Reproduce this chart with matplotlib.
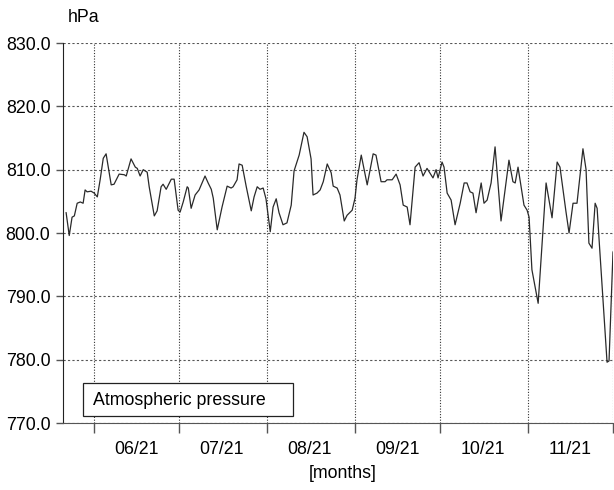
import datetime as dt

import matplotlib
matplotlib.use("Agg")
import matplotlib.dates as mdates
import numpy as np
from matplotlib import patches as mpatches
from matplotlib import pyplot as plt

# days since 2021-06-01 and pressure
days = [-9.9, -8.8, -7.8, -7.0, -6.0, -4.9, -3.9, -3.2, -2.5, -1.1,
        0.0, 1.1, 2.1, 3.2, 4.2, 6.0, 7.0, 8.8, 10.6, 11.3,
        13.0, 14.5, 15.2, 16.2, 17.3, 18.7, 19.4, 21.2, 22.2, 23.6,
        24.3, 25.4, 27.2, 28.2, 29.6, 30.3, 31.4, 32.8, 33.2, 34.2,
        35.6, 37.0, 39.1, 40.2, 41.3, 42.0, 43.4, 45.1, 46.9, 48.3,
        49.0, 50.4, 51.1, 52.2, 53.6, 55.4, 56.4, 57.5, 58.5, 59.6,
        60.6, 62.1, 63.1, 64.2, 65.2, 66.6, 68.0, 69.5, 70.5, 72.3,
        74.0, 75.1, 76.5, 77.2, 78.6, 79.7, 80.8, 82.2, 83.6, 84.3,
        85.7, 86.7, 88.2, 89.2, 91.0, 92.0, 92.7, 94.2, 96.3, 98.4,
        99.4, 101.2, 102.6, 103.3, 105.1, 106.5, 107.9, 109.0, 110.4, 111.4,
        113.2, 114.6, 116.0, 117.4, 119.5, 120.6, 121.3, 122.7, 123.4, 124.5,
        125.9, 127.3, 129.1, 130.5, 131.5, 132.6, 133.6, 134.7, 136.5, 137.5,
        138.6, 140.0, 141.4, 143.5, 146.3, 147.7, 148.5, 149.5, 151.6, 152.7,
        153.4, 154.4, 156.6, 159.4, 161.5, 163.3, 164.3, 166.4, 167.5, 168.9,
        170.3, 172.4, 173.5, 174.5, 175.6, 176.7, 177.4, 178.1, 180.9, 181.6,
        183.0]
pressure = [803.2, 799.6, 802.5, 802.7, 804.7, 804.9, 804.7, 806.8, 806.5, 806.6,
            806.3, 805.7, 808.4, 811.8, 812.5, 807.6, 807.7, 809.3, 809.2, 809.0,
            811.7, 810.4, 810.2, 809.0, 810.0, 809.6, 807.3, 802.7, 803.5, 807.3,
            807.7, 806.9, 808.5, 808.5, 803.6, 803.3, 804.9, 807.3, 807.1, 803.9,
            806.0, 806.8, 809.0, 807.9, 806.9, 805.5, 800.5, 804.1, 807.4, 807.1,
            807.3, 808.4, 810.9, 810.7, 807.4, 803.5, 805.7, 807.3, 806.9, 807.1,
            805.4, 800.2, 804.1, 805.4, 803.2, 801.3, 801.6, 804.4, 809.8, 812.3,
            815.9, 815.2, 811.7, 806.0, 806.3, 806.8, 808.1, 810.9, 809.5, 807.4,
            807.1, 806.0, 801.9, 802.8, 803.6, 805.5, 808.4, 812.3, 807.6, 812.5,
            812.3, 808.1, 808.1, 808.4, 808.4, 809.3, 807.6, 804.4, 804.1, 801.3,
            810.4, 811.1, 809.0, 810.2, 808.7, 810.0, 808.7, 811.2, 810.4, 806.3,
            805.2, 801.3, 804.7, 807.9, 807.9, 806.5, 806.3, 803.2, 807.9, 804.7,
            805.2, 807.9, 813.6, 801.9, 811.5, 808.1, 807.9, 810.4, 804.4, 803.6,
            802.5, 794.2, 788.9, 807.9, 802.4, 811.2, 810.4, 803.4, 800.0, 804.7,
            804.7, 813.3, 810.0, 798.4, 797.6, 804.7, 803.9, 798.9, 779.6, 779.8,
            797.0]

start = mdates.date2num(dt.datetime(2021, 6, 1))
x = start + np.array(days)

fs = 12.8
plt.rcParams['font.family'] = ['Liberation Sans', 'DejaVu Sans']
fig = plt.figure(figsize=(6.14, 4.9), dpi=100)
ax = fig.add_axes([63/614, 1-423/490, 550/614, 380/490])

ax.plot(x, pressure, color='#2a2a2a', lw=0.9)

ax.set_xlim(mdates.date2num(dt.datetime(2021, 5, 21)), mdates.date2num(dt.datetime(2021, 12, 1)))
ax.set_ylim(770, 830)
ax.set_yticks(np.arange(770, 831, 10))
ax.yaxis.set_major_formatter(plt.FuncFormatter(lambda v, p: f'{v:.1f}'))

ax.xaxis.set_major_locator(mdates.MonthLocator())
ax.xaxis.set_major_formatter(plt.NullFormatter())
ax.xaxis.set_minor_locator(mdates.MonthLocator(bymonthday=16))
ax.xaxis.set_minor_formatter(mdates.DateFormatter('%m/%y'))
ax.tick_params(axis='x', which='major', length=7, width=1, color='#555555', direction='out')
ax.tick_params(axis='x', which='minor', length=0, labelsize=fs, pad=13)
ax.tick_params(axis='y', length=5, width=1, color='#555555', labelsize=fs, pad=4)

ax.grid(True, axis='y', color='#555555', lw=0.8, ls=(0, (2, 2)))
ax.grid(True, axis='x', which='major', color='#333333', lw=0.8, ls=(0, (1, 1.5)))

for s in ['top', 'right']:
    ax.spines[s].set_visible(False)
ax.spines['left'].set_color('#222222')
ax.spines['bottom'].set_color('#555555')

box = mpatches.Rectangle((0.0364, 0.0184), 0.3816, 0.0866, transform=ax.transAxes,
                         fill=True, facecolor='white', edgecolor='#222222', lw=0.9, zorder=5)
ax.add_patch(box)
ax.text(0.0545, 0.0605, 'Atmospheric pressure', transform=ax.transAxes,
        va='center', ha='left', fontsize=fs, zorder=6)

fig.text(68/614, 1-18/490, 'hPa', va='center', ha='left', fontsize=fs)
fig.text(343/614, 1-473/490, '[months]', va='center', ha='center', fontsize=fs)

fig.savefig('out.png', dpi=100)
